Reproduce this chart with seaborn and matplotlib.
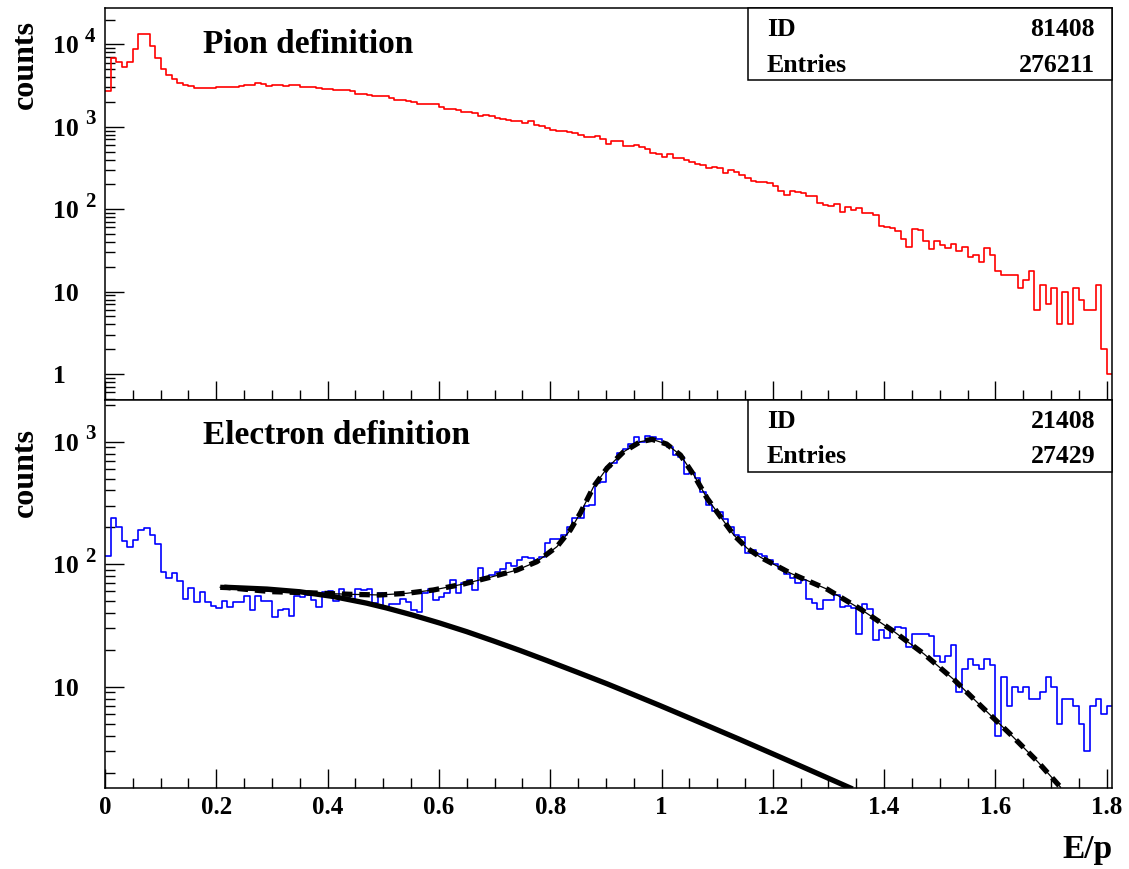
import numpy as np
import pandas as pd
import matplotlib
matplotlib.use("Agg")
import matplotlib.pyplot as plt
import seaborn as sns
from matplotlib.ticker import FixedLocator, FixedFormatter, LogLocator, NullFormatter, MultipleLocator
from matplotlib.patches import Rectangle
from matplotlib.transforms import blended_transform_factory, offset_copy

# ---------------- data ----------------
bin_width = 0.01
n_bins = 181  # E/p from 0 to 1.81

pion_counts = [
    2716, 6820, 6100, 5310, 6100, 8870, 13480, 13480, 9540, 6820,
    5070, 4300, 3840, 3400, 3250, 3100, 2990, 2980, 2980, 2960,
    3040, 3070, 3070, 3070, 3140, 3170, 3170, 3400, 3290, 3140,
    3170, 3220, 3100, 3250, 3250, 3040, 3040, 3040, 2960, 2870,
    2870, 2760, 2760, 2760, 2690, 2500, 2500, 2430, 2360, 2360,
    2340, 2220, 2100, 2100, 2055, 2000, 1910, 1875, 1890, 1875,
    1740, 1660, 1645, 1600, 1510, 1525, 1470, 1365, 1380, 1350,
    1280, 1245, 1220, 1175, 1185, 1120, 1165, 1040, 1035, 968,
    907, 900, 882, 857, 834, 804, 746, 758, 782, 700,
    618, 667, 672, 580, 580, 592, 560, 538, 481, 464,
    435, 468, 423, 415, 393, 374, 354, 344, 320, 329,
    317, 271, 299, 281, 260, 242, 220, 211, 211, 205,
    191, 167, 148, 165, 161, 156, 144, 145, 120, 111,
    109, 114, 93, 105, 99, 102, 89, 89, 84, 63,
    61, 59, 54, 44, 35, 57, 56, 41, 33, 41,
    37, 34, 38, 31, 35, 26, 28, 23, 34, 28,
    18, 16, 16, 16, 11, 14, 18, 6, 12, 7,
    11, 4, 10, 4, 11, 8, 6, 6, 12, 2,
    1,
]

electron_counts = [
    117, 237, 203, 155, 139, 158, 191, 199, 173, 147,
    87, 78, 85, 73, 52, 64, 49, 59, 49, 46,
    44, 50, 45, 49, 49, 55, 42, 55, 50, 50,
    37, 42, 43, 38, 55, 54, 56, 51, 45, 59,
    60, 50, 63, 56, 52, 63, 62, 63, 48, 58,
    45, 47, 47, 52, 49, 42, 41, 58, 63, 51,
    54, 58, 74, 58, 70, 74, 62, 93, 79, 82,
    87, 91, 102, 96, 108, 114, 112, 108, 115, 150,
    160, 160, 172, 203, 237, 237, 299, 305, 457, 472,
    626, 666, 814, 867, 958, 1100, 1000, 1120, 1100, 1045,
    982, 910, 779, 755, 546, 552, 502, 391, 305, 274,
    269, 233, 200, 173, 168, 124, 132, 121, 117, 108,
    101, 93, 84, 77, 71, 74, 52, 48, 43, 51,
    51, 56, 45, 46, 44, 27, 47, 43, 24, 29,
    25, 29, 31, 30, 21, 27, 27, 27, 26, 18,
    16, 18, 22, 9, 14, 17, 15, 14, 17, 15,
    4, 12, 7, 10, 9, 10, 8, 8, 9, 12,
    10, 5, 8, 8, 7, 5, 3, 7, 8, 6,
    7,
]

# background fit component (thick solid)
bkg_x = [0.219, 0.291, 0.350, 0.410, 0.470, 0.506, 0.554, 0.602, 0.650, 0.698,
         0.746, 0.794, 0.848, 0.902, 0.949, 0.997, 1.021, 1.081, 1.141, 1.201,
         1.261, 1.321, 1.339]
bkg_y = [64.9, 62.8, 59.7, 54.6, 48.2, 44.0, 38.4, 33.1, 28.2, 23.7,
         19.8, 16.4, 13.2, 10.6, 8.67, 7.05, 6.34, 4.86, 3.72, 2.83,
         2.15, 1.63, 1.50]

# total fit (thin solid + thick dashed)
fit_x = [0.207, 0.219, 0.300, 0.363, 0.440, 0.494, 0.542, 0.590, 0.644, 0.692,
         0.740, 0.776, 0.812, 0.836, 0.854, 0.878, 0.902, 0.932, 0.962, 0.983,
         1.009, 1.034, 1.058, 1.082, 1.106, 1.130, 1.154, 1.178, 1.232, 1.298,
         1.358, 1.418, 1.472, 1.526, 1.574, 1.628, 1.676, 1.717]
fit_y = [64.9, 64.6, 59.8, 58.6, 56.9, 56.2, 58.0, 61.7, 69.0, 78.3,
         89.7, 105, 139, 190, 261, 430, 607, 828, 1000, 1045,
         957, 778, 535, 345, 244, 173, 135, 114, 84.5, 62.5,
         43.0, 28.2, 18.5, 11.4, 6.98, 4.06, 2.45, 1.52]

x_tick_values = [0, 0.2, 0.4, 0.6, 0.8, 1.0, 1.2, 1.4, 1.6, 1.8]
x_tick_labels = ["0", "0.2", "0.4", "0.6", "0.8", "1", "1.2", "1.4", "1.6", "1.8"]
top_y_ticks = [1, 10, 100, 1000, 10000]
top_y_base = ["1", "10", "10", "10", "10"]
top_y_exp = ["", "", "2", "3", "4"]
bot_y_ticks = [10, 100, 1000]
bot_y_base = ["10", "10", "10"]
bot_y_exp = ["", "2", "3"]

top_stats = [("ID", "81408"), ("Entries", "276211")]
bot_stats = [("ID", "21408"), ("Entries", "27429")]

# ---------------- style ----------------
plt.rcParams["font.family"] = ["Liberation Serif", "DejaVu Serif"]
plt.rcParams["font.weight"] = "bold"

edges = [round(i * bin_width, 4) for i in range(n_bins + 1)]
centers = [(a + b) / 2 for a, b in zip(edges[:-1], edges[1:])]
pion_df = pd.DataFrame({"ep": centers, "count": pion_counts})
elec_df = pd.DataFrame({"ep": centers, "count": electron_counts})
bkg_df = pd.DataFrame({"ep": bkg_x, "val": bkg_y})
fit_df = pd.DataFrame({"ep": fit_x, "val": fit_y})

fig = plt.figure(figsize=(11.29, 8.69), dpi=100)
W, H = 1129.0, 869.0
left_px, right_px = 105.0, 1112.3
ax1 = fig.add_axes([left_px / W, 1 - 400 / H, (right_px - left_px) / W, (400 - 8.3) / H])
ax2 = fig.add_axes([left_px / W, 1 - 788 / H, (right_px - left_px) / W, (788 - 400) / H])

sns.histplot(data=pion_df, x="ep", weights="count", bins=edges, element="step", fill=False,
             color="#ff0000", linewidth=1.2, ax=ax1)
sns.histplot(data=elec_df, x="ep", weights="count", bins=edges, element="step", fill=False,
             color="#0000ff", linewidth=1.2, ax=ax2)

sns.lineplot(data=fit_df, x="ep", y="val", color="black", linewidth=0.9, estimator=None, sort=False, ax=ax2)
sns.lineplot(data=fit_df, x="ep", y="val", color="black", linewidth=3.8, linestyle=(0, (2.0, 1.3)),
             estimator=None, sort=False, ax=ax2)
sns.lineplot(data=bkg_df, x="ep", y="val", color="black", linewidth=3.8, estimator=None, sort=False, ax=ax2)

for ax in (ax1, ax2):
    ax.set_yscale("log")
    ax.set_xlim(0, 1.81)
    ax.set_xlabel("")
    ax.set_ylabel("")
    ax.xaxis.set_major_locator(FixedLocator(x_tick_values))
    ax.xaxis.set_major_formatter(FixedFormatter(x_tick_labels))
    ax.xaxis.set_minor_locator(MultipleLocator(0.05))
    ax.yaxis.set_minor_locator(LogLocator(base=10, subs=np.arange(2, 10)))
    ax.yaxis.set_minor_formatter(NullFormatter())
    ax.yaxis.set_major_formatter(NullFormatter())
    ax.tick_params(axis="both", which="both", direction="in", top=False, right=False, width=1.0, colors="black")
    ax.tick_params(axis="both", which="major", length=14)
    ax.tick_params(axis="both", which="minor", length=7)
    ax.tick_params(axis="x", labelsize=18, pad=6)
    for s in ax.spines.values():
        s.set_linewidth(1.1)
        s.set_color("black")
    ax.set_facecolor("white")

ax1.set_ylim(0.4835, 27350)
ax2.set_ylim(1.497, 2188)
ax1.yaxis.set_major_locator(FixedLocator(top_y_ticks))
ax2.yaxis.set_major_locator(FixedLocator(bot_y_ticks))
ax1.tick_params(axis="x", labelbottom=False)
for lab in ax2.get_xticklabels():
    lab.set_fontweight("bold")


def y_labels(ax, ticks, bases, exps):
    trans = blended_transform_factory(ax.transAxes, ax.transData)
    xb = (53 - left_px) / (right_px - left_px)
    xe = (85 - left_px) / (right_px - left_px)
    tb = offset_copy(trans, fig=fig, y=-9, units="dots")
    te = offset_copy(trans, fig=fig, y=2.6, units="dots")
    for t, b, e in zip(ticks, bases, exps):
        ax.text(xb, t, b, transform=tb, fontsize=18.5, fontweight="bold", ha="left", va="baseline")
        if e:
            ax.text(xe, t, e, transform=te, fontsize=15, fontweight="bold", ha="left", va="baseline")


y_labels(ax1, top_y_ticks, top_y_base, top_y_exp)
y_labels(ax2, bot_y_ticks, bot_y_base, bot_y_exp)

# titles
ax1.text(0.0973, 0.885, "Pion definition", transform=ax1.transAxes, fontsize=24,
         fontweight="bold", ha="left", va="baseline")
ax2.text(0.0973, 0.8866, "Electron definition", transform=ax2.transAxes, fontsize=24,
         fontweight="bold", ha="left", va="baseline")


# stat boxes
def stat_box(ax, stats, y_bottom, y_rows):
    x0 = (748 - left_px) / (right_px - left_px)
    ax.add_patch(Rectangle((x0, y_bottom), 1 - x0, 1 - y_bottom, transform=ax.transAxes,
                           facecolor="white", edgecolor="black", linewidth=1.1, zorder=5,
                           clip_on=False))
    xl = (767 - left_px) / (right_px - left_px)
    xr = (1095 - left_px) / (right_px - left_px)
    for (name, val), yy in zip(stats, y_rows):
        ax.text(xl, yy, name, transform=ax.transAxes, fontsize=18.5, fontweight="bold",
                ha="left", va="baseline", zorder=6)
        ax.text(xr, yy, val, transform=ax.transAxes, fontsize=18.5, fontweight="bold",
                ha="right", va="baseline", zorder=6)


stat_box(ax1, top_stats, (400 - 80) / (400 - 8.3), [0.929, 0.838])
stat_box(ax2, bot_stats, (788 - 472) / 388.0, [0.9286, 0.8366])

# axis titles
fig.text(25 / W, 1 - 20 / H, "counts", rotation=90, fontsize=23, fontweight="bold",
         ha="center", va="top")
fig.text(25 / W, 1 - 428 / H, "counts", rotation=90, fontsize=23, fontweight="bold",
         ha="center", va="top")
fig.text(1113 / W, 1 - 858.3 / H, "E/p", fontsize=24, fontweight="bold", ha="right", va="baseline")

fig.savefig("out.png", dpi=100, facecolor="white")
